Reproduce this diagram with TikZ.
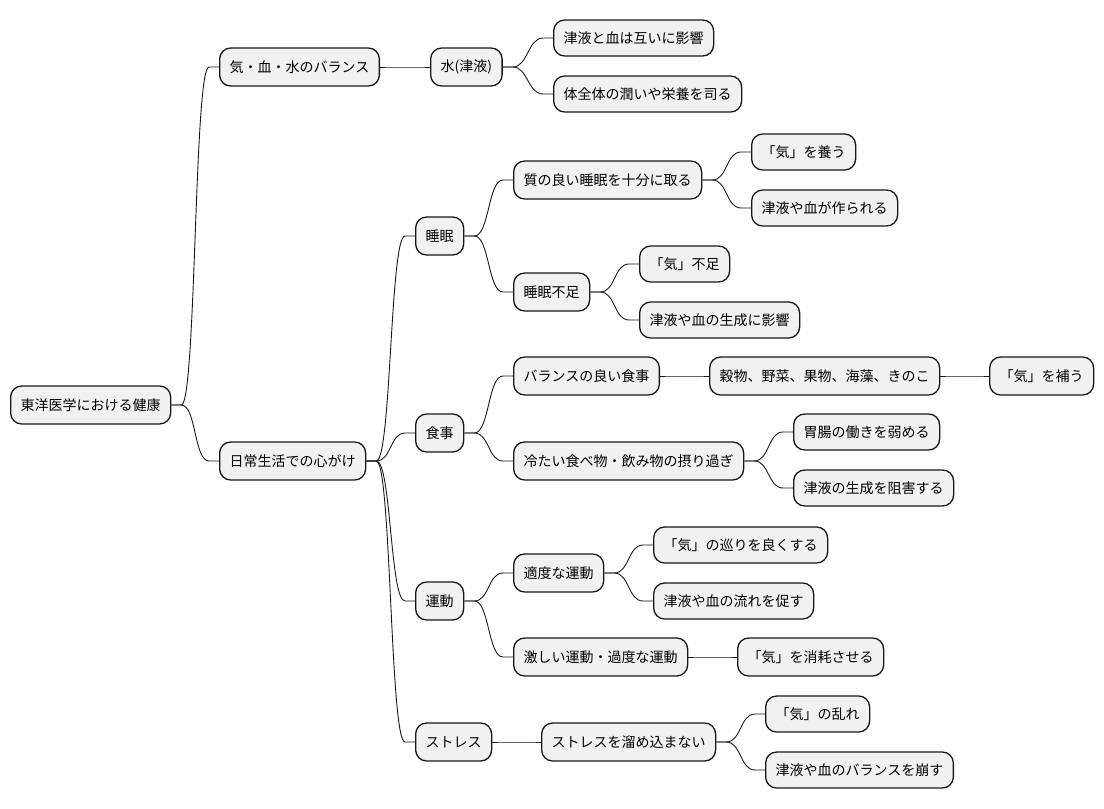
\documentclass[tikz,border=0pt]{standalone}
\usepackage{fontspec}
\setmainfont{Noto Sans CJK JP}
\usepackage{tikz}
\definecolor{boxfill}{HTML}{F1F1F1}
\definecolor{boxline}{HTML}{181818}

\begin{document}
\begin{tikzpicture}[x=1pt,y=-1pt]
\tikzset{every node/.style={font=\fontsize{14}{16}\selectfont},
  topic/.style={draw=boxline,fill=boxfill,line width=1.3pt,rounded corners=11pt,anchor=west,inner xsep=10pt,inner ysep=0pt,minimum height=38pt},
  leaf/.style={topic,minimum height=36pt},
  link/.style={line width=0.9pt,boxline,to path={-- ++(10,0) .. controls +(15,0) and +(-15,0) .. ([xshift=-10pt]\tikztotarget) -- (\tikztotarget)}}}
\useasboundingbox (0,0) rectangle (1104,809);

\node (root) at (10,405) [topic] {東洋医学における健康};
\node (bal) at (219,67) [topic] {気・血・水のバランス};
\node (mizu) at (430,67) [topic] {水(津液)};
\node (m1) at (553,38) [leaf] {津液と血は互いに影響};
\node (m2) at (553,94) [leaf] {体全体の潤いや栄養を司る};
\node (life) at (219,461) [topic] {日常生活での心がけ};
% sleep
\node (slp) at (415,236) [topic] {睡眠};
\node (slp1) at (513,180) [topic] {質の良い睡眠を十分に取る};
\node (slp11) at (751,152) [leaf] {「気」を養う};
\node (slp12) at (751,208) [leaf] {津液や血が作られる};
\node (slp2) at (513,292) [topic] {睡眠不足};
\node (slp21) at (639,264) [leaf] {「気」不足};
\node (slp22) at (639,320) [leaf] {津液や血の生成に影響};
% food
\node (food) at (415,433) [topic] {食事};
\node (food1) at (513,376) [topic] {バランスの良い食事};
\node (food11) at (709,376) [topic] {穀物、野菜、果物、海藻、きのこ};
\node (food12) at (989,376) [topic] {「気」を補う};
\node (food2) at (513,461) [topic] {冷たい食べ物・飲み物の摂り過ぎ};
\node (food21) at (793,432) [leaf] {胃腸の働きを弱める};
\node (food22) at (793,488) [leaf] {津液の生成を阻害する};
% exercise
\node (ex) at (415,601) [topic] {運動};
\node (ex1) at (513,573) [topic] {適度な運動};
\node (ex11) at (653,545) [leaf] {「気」の巡りを良くする};
\node (ex12) at (653,601) [leaf] {津液や血の流れを促す};
\node (ex2) at (513,657) [topic] {激しい運動・過度な運動};
\node (ex21) at (737,657) [topic] {「気」を消耗させる};
% stress
\node (str) at (415,742) [topic] {ストレス};
\node (str1) at (541,742) [topic] {ストレスを溜め込まない};
\node (str11) at (765,714) [leaf] {「気」の乱れ};
\node (str12) at (765,770) [leaf] {津液や血のバランスを崩す};

\path
(root.east) edge [link] (bal.west)
(root.east) edge [link] (life.west)
(bal.east) edge [link] (mizu.west)
(mizu.east) edge [link] (m1.west)
(mizu.east) edge [link] (m2.west)
(life.east) edge [link] (slp.west)
(life.east) edge [link] (food.west)
(life.east) edge [link] (ex.west)
(life.east) edge [link] (str.west)
(slp.east) edge [link] (slp1.west)
(slp.east) edge [link] (slp2.west)
(slp1.east) edge [link] (slp11.west)
(slp1.east) edge [link] (slp12.west)
(slp2.east) edge [link] (slp21.west)
(slp2.east) edge [link] (slp22.west)
(food.east) edge [link] (food1.west)
(food.east) edge [link] (food2.west)
(food1.east) edge [link] (food11.west)
(food11.east) edge [link] (food12.west)
(food2.east) edge [link] (food21.west)
(food2.east) edge [link] (food22.west)
(ex.east) edge [link] (ex1.west)
(ex.east) edge [link] (ex2.west)
(ex1.east) edge [link] (ex11.west)
(ex1.east) edge [link] (ex12.west)
(ex2.east) edge [link] (ex21.west)
(str.east) edge [link] (str1.west)
(str1.east) edge [link] (str11.west)
(str1.east) edge [link] (str12.west);
\end{tikzpicture}
\end{document}
